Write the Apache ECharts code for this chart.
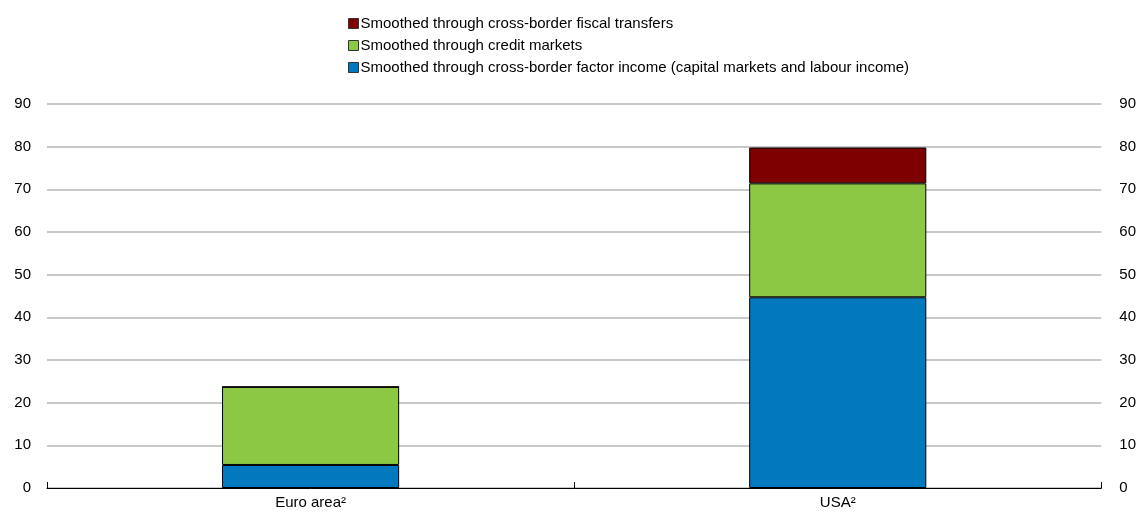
<!DOCTYPE html>
<html>
<head>
<meta charset="utf-8">
<script src="https://cdn.jsdelivr.net/npm/echarts@6/dist/echarts.min.js"></script>
<style>html,body{margin:0;padding:0;background:#fff}#c{width:1139px;height:515px}</style>
</head>
<body>
<div id="c"></div>
<script>
var categories = ['Euro area²', 'USA²'];
var factorIncome = [5.4, 44.7];
var creditMarkets = [18.3, 26.7];
var fiscalTransfers = [0, 8.4];
var seriesNames = [
  'Smoothed through cross-border factor income (capital markets and labour income)',
  'Smoothed through credit markets',
  'Smoothed through cross-border fiscal transfers'
];
var colors = ['#0279BF', '#8CC843', '#7F0000'];
var FONT = 'Liberation Sans, Arial, sans-serif';

var chart = echarts.init(document.getElementById('c'));
function bar(name, data, color) {
  return {
    name: name, type: 'bar', stack: 'total', data: data,
    barWidth: '33.6%',
    itemStyle: { color: color, borderColor: '#000', borderWidth: 1 },
    emphasis: { disabled: true }
  };
}
chart.setOption({
  animation: false,
  textStyle: { fontFamily: FONT },
  legend: {
    orient: 'vertical', left: 343, top: 11, itemGap: 7,
    itemWidth: 10, itemHeight: 10, icon: 'rect',
    data: [seriesNames[2], seriesNames[1], seriesNames[0]],
    textStyle: { fontFamily: FONT, fontSize: 15, color: '#000', padding: [0,0,0,-3] },
    itemStyle: { borderColor: '#333', borderWidth: 1 }
  },
  grid: { left: 47, right: 37, top: 104, bottom: 27 },
  xAxis: {
    type: 'category', data: categories,
    axisLine: { lineStyle: { color: '#000', width: 1 } },
    axisTick: { show: true, inside: true, length: 6, lineStyle: { color: '#000' } },
    axisLabel: { color: '#000', fontSize: 15, fontFamily: FONT, margin: 7 }
  },
  yAxis: [{
    type: 'value', min: 0, max: 90, interval: 10, position: 'left',
    axisLine: { show: false }, axisTick: { show: false },
    axisLabel: { color: '#000', fontSize: 15, fontFamily: FONT, margin: 16 },
    splitLine: { lineStyle: { color: '#c8c8c8', width: 2 } }
  }, {
    type: 'value', min: 0, max: 90, interval: 10, position: 'right',
    axisLine: { show: false }, axisTick: { show: false },
    axisLabel: { color: '#000', fontSize: 15, fontFamily: FONT, margin: 18 },
    splitLine: { show: false }
  }],
  series: [
    bar(seriesNames[0], factorIncome, colors[0]),
    bar(seriesNames[1], creditMarkets, colors[1]),
    bar(seriesNames[2], fiscalTransfers, colors[2])
  ]
});
</script>
</body>
</html>
